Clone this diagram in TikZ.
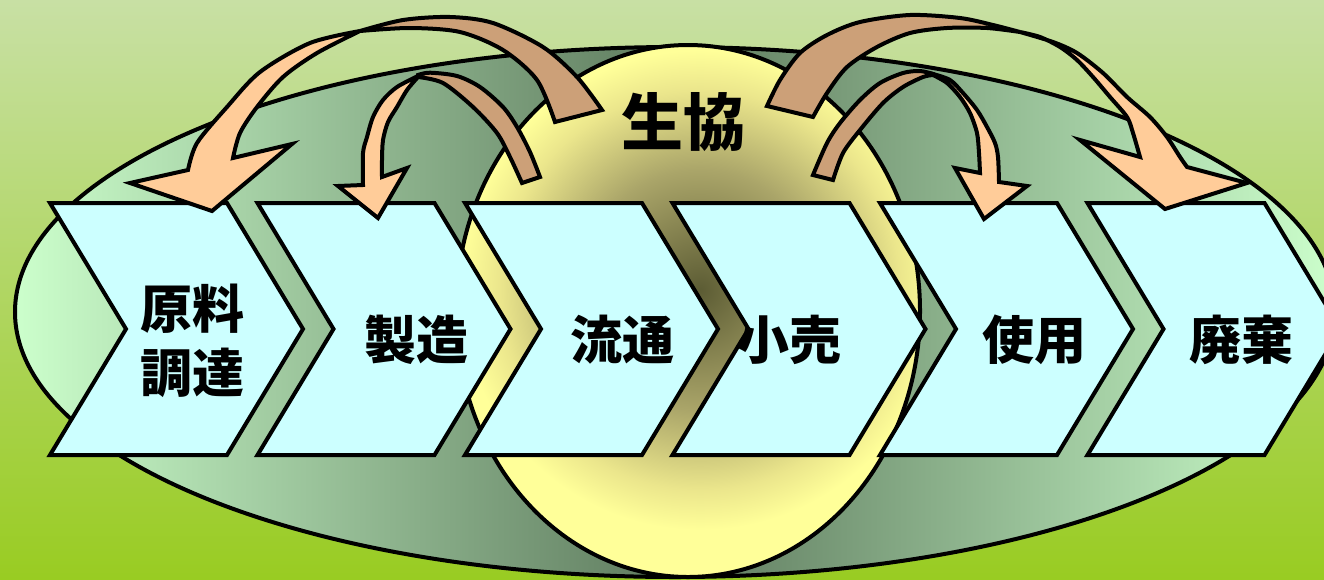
\documentclass[tikz,border=0pt]{standalone}
\usepackage{fontspec}
\newfontfamily\jp{Noto Sans CJK JP}
\definecolor{bgtop}{RGB}{200,224,164}
\definecolor{bgbot}{RGB}{153,204,34}
\definecolor{elllight}{RGB}{204,255,204}
\definecolor{elldark}{RGB}{94,122,94}
\definecolor{yel}{RGB}{255,255,153}
\definecolor{yolkA}{RGB}{92,92,52}
\definecolor{yolkB}{RGB}{170,165,105}
\definecolor{yolkC}{RGB}{235,230,140}
\definecolor{chev}{RGB}{204,255,255}
\definecolor{tanc}{RGB}{204,160,120}
\definecolor{peach}{RGB}{255,204,153}
\pgfdeclareradialshading{yolk}{\pgfpoint{0bp}{0bp}}{color(0bp)=(yolkA); color(12bp)=(yolkB); color(20bp)=(yolkC); color(24bp)=(yel); color(25bp)=(yel); color(50bp)=(yel)}
\tikzset{
  outl/.style={draw=black, line width=4pt, line join=miter, miter limit=6},
  chevbox/.style={outl, fill=chev},
  backband/.style={outl, fill=tanc},
  frontband/.style={outl, fill=peach},
  lbl/.style={font=\jp\bfseries\fontsize{52}{64}\selectfont, align=center, inner sep=0pt},
  biglbl/.style={font=\jp\bfseries\fontsize{62}{70}\selectfont, inner sep=0pt}
}
\begin{document}
\begin{tikzpicture}[x=1pt, y=-1pt]
\fill[top color=bgtop, bottom color=bgbot] (0,0) rectangle (1324,579);
\useasboundingbox (0,0) rectangle (1324,579);
% big ellipse
\shade[left color=elllight, right color=elllight, middle color=elldark] (675,312) ellipse [x radius=660pt, y radius=265pt];
\draw[outl] (675,312) ellipse [x radius=660pt, y radius=265pt];
% yellow ellipse
\fill[yel] (688,311) ellipse [x radius=232pt, y radius=266pt];
\begin{scope}
  \clip (688,311) ellipse [x radius=232pt, y radius=266pt];
  \shade[shading=yolk] (700,290) circle [radius=250pt];
\end{scope}
\draw[outl] (688,311) ellipse [x radius=232pt, y radius=266pt];
% chevrons
\foreach \x in {50,257.5,465,672.5,880,1087.5}{
  \draw[chevbox] (\x,203) -- ++(177,0) -- ++(76,126) -- ++(-76,126) -- ++(-177,0) -- ++(76,-126) -- cycle;
}
% labels
\node[lbl] (t1) at (192,341) {原料\\調達};
\node[lbl] (t2) at (416,340) {製造};
\node[lbl] (t3) at (622,340) {流通};
\node[lbl] (t4) at (789,340) {小売};
\node[lbl] (t5) at (1034,340) {使用};
\node[lbl] (t6) at (1241,340) {廃棄};
\node[biglbl] (coop) at (683,122) {生協};
% arrow A1 (big, left)
\filldraw[backband] plot[smooth] coordinates {(602,110) (577,77) (543,47) (493,23) (450,17) (403,20) (360,31)}
  -- plot[smooth] coordinates {(360,31) (410,28) (460,32) (503,50) (537,80) (555,122)} -- cycle;
\filldraw[frontband] plot[smooth] coordinates {(360,31) (310,43) (260,72) (227,107) (197,143) (188,170)}
  -- (130,183) -- (212,211) -- (292,144)
  -- plot[smooth] coordinates {(233,158) (240,133) (257,107) (283,77) (317,53) (360,31)} -- cycle;
% arrow A2 (small, left)
\filldraw[backband] plot[smooth] coordinates {(418,75) (430,72.7) (457,76) (480,87) (503,107) (517,127) (530,152) (540,177)}
  -- plot[smooth] coordinates {(522,183) (510,157) (497,133) (473,107) (443,83) (418,77)} -- cycle;
\filldraw[frontband] plot[smooth] coordinates {(418,76) (397,87) (383,100) (373,117) (367,137) (363,153) (363,185)}
  -- (338,186) -- (378,218) -- (407,168)
  -- plot[smooth] coordinates {(382,177) (382,160) (383,140) (388,122) (397,107) (407,90) (418,77)} -- cycle;
% arrow A3 (big, right)
\filldraw[backband] plot[smooth] coordinates {(767,106) (780,80) (800,53) (827,35) (860,22) (910,15) (960,18) (993,25) (1020,32)}
  -- plot[smooth] coordinates {(1020,32) (987,28) (947,28) (910,33) (877,47) (847,67) (827,93) (813,117)} -- cycle;
\filldraw[frontband] plot[smooth] coordinates {(1020,32) (1053,42) (1077,53) (1103,73) (1127,97) (1150,117) (1167,137) (1180,157) (1187,167)}
  -- (1247,183) -- (1165,209) -- (1080,140)
  -- plot[smooth] coordinates {(1140,157) (1133,133) (1127,117) (1110,97) (1093,77) (1077,60) (1060,47) (1040,37) (1020,32)} -- cycle;
% arrow A4 (small, right)
\filldraw[backband] plot[smooth] coordinates {(813,175) (827,143) (840,123) (860,100) (880,83) (903,73) (920,71) (933,74)}
  -- plot[smooth] coordinates {(933,75) (923,77) (903,87) (883,103) (860,130) (843,153) (833,180)} -- cycle;
\filldraw[frontband] plot[smooth] coordinates {(933,74) (950,80) (963,93) (977,110) (987,127) (995,143) (998,157) (999,182)}
  -- (1027,186) -- (984,219) -- (955,168)
  -- plot[smooth] coordinates {(980,173) (979,153) (977,133) (970,113) (960,97) (947,83) (933,75)} -- cycle;
\end{tikzpicture}
\end{document}
